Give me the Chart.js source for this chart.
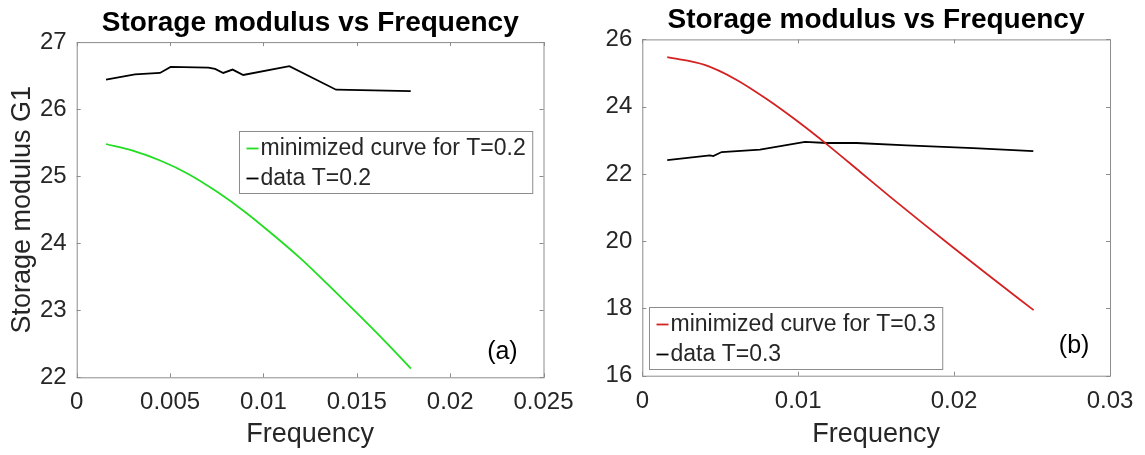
<!DOCTYPE html>
<html>
<head>
<meta charset="utf-8">
<title>Storage modulus vs Frequency</title>
<script src="https://cdn.jsdelivr.net/npm/chart.js"></script>
<style>
  html, body { margin: 0; padding: 0; background: #fff; overflow: hidden; }
  .panel { position: absolute; top: 0; }
</style>
</head>
<body>
<div class="panel" style="left:0px"><canvas id="chartA" width="621" height="455"></canvas></div>
<div class="panel" style="left:602px"><canvas id="chartB" width="550" height="455"></canvas></div>

<script>
// --- panel (a), T = 0.2 ---
const freqFitA = [0.00157, 0.003, 0.0045, 0.006, 0.0075, 0.009, 0.0105, 0.012, 0.0135, 0.015, 0.0165, 0.0179];
const g1FitA   = [25.48, 25.38, 25.23, 25.03, 24.77, 24.47, 24.13, 23.77, 23.37, 22.96, 22.54, 22.13];
const freqDataA = [0.00157, 0.00312, 0.00446, 0.00503, 0.00705, 0.00741, 0.00785, 0.00835, 0.00892, 0.01139, 0.01389, 0.01789];
const g1DataA   = [26.44, 26.52, 26.54, 26.63, 26.62, 26.60, 26.54, 26.59, 26.51, 26.64, 26.29, 26.27];
const xTicksA = [0, 0.005, 0.01, 0.015, 0.02, 0.025];
const yTicksA = [22, 23, 24, 25, 26, 27];

// --- panel (b), T = 0.3 ---
const freqFitB = [0.0016, 0.004, 0.006, 0.008, 0.01, 0.012, 0.014, 0.016, 0.018, 0.02, 0.022, 0.0251];
const g1FitB   = [25.47, 25.24, 24.81, 24.22, 23.55, 22.82, 22.05, 21.28, 20.53, 19.79, 19.06, 17.95];
const freqDataB = [0.0016, 0.00434, 0.00455, 0.00509, 0.00755, 0.01044, 0.01183, 0.01375, 0.01696, 0.02123, 0.02508];
const g1DataB   = [22.41, 22.55, 22.53, 22.65, 22.72, 22.95, 22.92, 22.92, 22.85, 22.77, 22.68];
const xTicksB = [0, 0.01, 0.02, 0.03];
const yTicksB = [16, 18, 20, 22, 24, 26];

const TEXT = '#262626';
const FRAME = '#8c8c8c';
const FONT = '"Liberation Sans", Arial, Helvetica, sans-serif';

const toPoints = (xs, ys) => xs.map((x, i) => ({ x: x, y: ys[i] }));

// box round the plot + short inward ticks on all four sides (matlab style)
const axesBox = {
  id: 'axesBox',
  beforeDatasetsDraw(chart) {
    const { ctx, chartArea: a, scales } = chart;
    const len = 4;
    ctx.save();
    ctx.strokeStyle = FRAME;
    ctx.lineWidth = 1;
    ctx.strokeRect(a.left + 0.5, a.top + 0.5, a.right - a.left, a.bottom - a.top);
    ctx.beginPath();
    scales.x.ticks.forEach(t => {
      const px = Math.round(scales.x.getPixelForValue(t.value)) + 0.5;
      ctx.moveTo(px, a.bottom); ctx.lineTo(px, a.bottom - len);
      ctx.moveTo(px, a.top); ctx.lineTo(px, a.top + len);
    });
    scales.y.ticks.forEach(t => {
      const py = Math.round(scales.y.getPixelForValue(t.value)) + 0.5;
      ctx.moveTo(a.left, py); ctx.lineTo(a.left + len, py);
      ctx.moveTo(a.right, py); ctx.lineTo(a.right - len, py);
    });
    ctx.stroke();
    ctx.restore();
  }
};

// legend box inside the axes, plus the (a)/(b) panel tag
const insideLegend = {
  id: 'insideLegend',
  afterDraw(chart, args, opts) {
    const { ctx, chartArea: a, scales } = chart;
    const sets = chart.data.datasets;
    ctx.save();
    ctx.font = '23px ' + FONT;
    const textW = Math.max(...sets.map(d => ctx.measureText(d.label).width));
    const w = 7 + 12 + 2 + textW + 7;
    const rowH = 30;
    const h = sets.length * rowH + 2;
    let left, top;
    if (opts.corner === 'ne') {
      left = a.right - opts.dx - w;
      top = a.top + opts.dy;
    } else {
      left = a.left + opts.dx;
      top = a.bottom - opts.dy - h;
    }
    left = Math.round(left) + 0.5;
    top = Math.round(top) + 0.5;
    ctx.fillStyle = '#fff';
    ctx.fillRect(left, top, w, h);
    ctx.strokeStyle = FRAME;
    ctx.lineWidth = 1;
    ctx.strokeRect(left, top, w, h);
    ctx.textBaseline = 'middle';
    ctx.textAlign = 'left';
    sets.forEach((d, i) => {
      const cy = top + 1 + rowH * (i + 0.5) + 1;
      ctx.strokeStyle = d.borderColor;
      ctx.lineWidth = d.borderWidth;
      ctx.beginPath();
      ctx.moveTo(left + 7, cy);
      ctx.lineTo(left + 19, cy);
      ctx.stroke();
      ctx.fillStyle = TEXT;
      ctx.fillText(d.label, left + 21, cy);
    });
    // panel tag
    ctx.font = '25px ' + FONT;
    ctx.textAlign = 'center';
    ctx.fillStyle = '#000';
    ctx.fillText(opts.tag.text, scales.x.getPixelForValue(opts.tag.x), scales.y.getPixelForValue(opts.tag.y));
    ctx.restore();
  }
};

function makeChart(id, cfg) {
  return new Chart(document.getElementById(id), {
    type: 'line',
    data: {
      datasets: [
        {
          label: cfg.fitLabel,
          data: toPoints(cfg.fitX, cfg.fitY),
          borderColor: cfg.fitColor,
          borderWidth: 1.8,
          pointRadius: 0,
          cubicInterpolationMode: 'monotone'
        },
        {
          label: cfg.dataLabel,
          data: toPoints(cfg.dataX, cfg.dataY),
          borderColor: '#000',
          borderWidth: 1.8,
          pointRadius: 0,
          tension: 0
        }
      ]
    },
    options: {
      responsive: false,
      animation: false,
      devicePixelRatio: 1,
      layout: { padding: { left: 0, right: cfg.padRight, top: 0, bottom: 0 } },
      plugins: {
        legend: { display: false },
        tooltip: { enabled: false },
        title: {
          display: true,
          text: 'Storage modulus vs Frequency',
          color: '#000',
          font: { family: FONT, size: 28, weight: 'bold', lineHeight: 1.2 },
          padding: { top: cfg.titleTop, bottom: cfg.titleBottom }
        },
        insideLegend: cfg.legend
      },
      scales: {
        x: {
          type: 'linear',
          min: cfg.xTicks[0],
          max: cfg.xTicks[cfg.xTicks.length - 1],
          afterBuildTicks: s => { s.ticks = cfg.xTicks.map(v => ({ value: v })); },
          afterFit: s => { s.height = cfg.xAxisH; },
          grid: { display: false, drawTicks: false },
          border: { display: false },
          ticks: {
            color: TEXT, padding: 11, maxRotation: 0, autoSkip: false,
            font: { family: FONT, size: 24 },
            callback: v => String(+v.toFixed(4))
          },
          title: {
            display: true, text: 'Frequency', color: TEXT,
            font: { family: FONT, size: 27, lineHeight: 1.2 },
            padding: { top: 0, bottom: 4 }
          }
        },
        y: {
          type: 'linear',
          position: 'left',
          min: cfg.yTicks[0],
          max: cfg.yTicks[cfg.yTicks.length - 1],
          afterBuildTicks: s => { s.ticks = cfg.yTicks.map(v => ({ value: v })); },
          afterFit: s => { s.width = cfg.yAxisW; },
          grid: { display: false, drawTicks: false },
          border: { display: false },
          ticks: { color: TEXT, padding: 10, font: { family: FONT, size: 24 } },
          title: {
            display: cfg.yTitle !== '', text: cfg.yTitle, color: TEXT,
            font: { family: FONT, size: 27, lineHeight: 1.2 },
            padding: { top: 6, bottom: 0 }
          }
        },
        // empty right axis, only there to keep the title centred over the plot
        yRight: {
          type: 'linear',
          position: 'right',
          min: cfg.yTicks[0],
          max: cfg.yTicks[cfg.yTicks.length - 1],
          afterFit: s => { s.width = cfg.rightW; },
          grid: { display: false, drawTicks: false },
          border: { display: false },
          ticks: { display: false }
        }
      }
    },
    plugins: [axesBox, insideLegend]
  });
}

makeChart('chartA', {
  fitLabel: 'minimized curve for T=0.2',
  dataLabel: 'data T=0.2',
  fitX: freqFitA, fitY: g1FitA,
  dataX: freqDataA, dataY: g1DataA,
  fitColor: '#22dd22',
  xTicks: xTicksA, yTicks: yTicksA,
  yTitle: 'Storage modulus G1',
  yAxisW: 76.7, rightW: 77, padRight: 0.5,
  xAxisH: 455 - 377.3,
  titleTop: 6, titleBottom: 2.5,
  legend: { corner: 'ne', dx: 11, dy: 89, tag: { text: '(a)', x: 0.0228, y: 22.37 } }
});

makeChart('chartB', {
  fitLabel: 'minimized curve for T=0.3',
  dataLabel: 'data T=0.3',
  fitX: freqFitB, fitY: g1FitB,
  dataX: freqDataB, dataY: g1DataB,
  fitColor: '#d42222',
  xTicks: xTicksB, yTicks: yTicksB,
  yTitle: '',
  yAxisW: 40.3, rightW: 40, padRight: 2,
  xAxisH: 455 - 375.7,
  titleTop: 3.3, titleBottom: 2.5,
  legend: { corner: 'sw', dx: 7, dy: 7, tag: { text: '(b)', x: 0.0277, y: 16.87 } }
});
</script>
</body>
</html>
